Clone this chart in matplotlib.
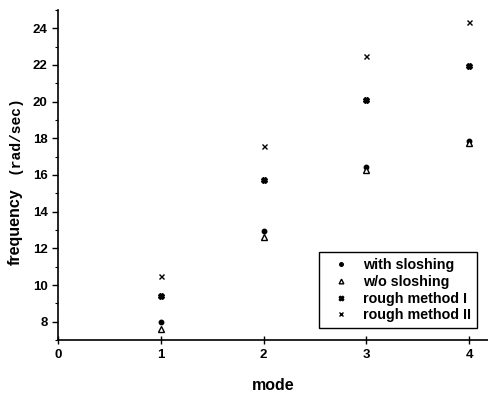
import matplotlib
matplotlib.use("Agg")
import matplotlib.pyplot as plt
from matplotlib.ticker import MultipleLocator

modes = [1, 2, 3, 4]
with_sloshing = [8.0, 12.95, 16.45, 17.85]
wo_sloshing = [7.58, 12.64, 16.27, 17.73]
rough_I = [9.4, 15.73, 20.09, 21.96]
rough_II = [10.49, 17.58, 22.49, 24.35]

plt.rcParams['font.family'] = ['Liberation Sans', 'DejaVu Sans']
plt.rcParams['font.weight'] = 'bold'

fig = plt.figure(figsize=(4.89, 3.95), dpi=100)
ax = fig.add_axes([0.1186, 0.139, 0.879, 0.836])

ax.plot(modes, with_sloshing, linestyle='none', marker='o', ms=3.2, color='black', label='with sloshing')
ax.plot(modes, wo_sloshing, linestyle='none', marker='^', ms=4.2, mfc='white', mec='black', mew=1.0, label='w/o sloshing')
ax.plot(modes, rough_I, linestyle='none', marker='X', ms=4.2, color='black', label='rough method I')
ax.plot(modes, rough_II, linestyle='none', marker='x', ms=3.6, mew=1.0, color='black', label='rough method II')

ax.set_xlim(0, 4.18)
ax.set_ylim(7, 25)
ax.set_xticks([0, 1, 2, 3, 4])
ax.set_yticks([8, 10, 12, 14, 16, 18, 20, 22, 24])
ax.yaxis.set_minor_locator(MultipleLocator(1))
ax.spines['top'].set_visible(False)
ax.spines['right'].set_visible(False)
ax.spines['left'].set_linewidth(1.2)
ax.spines['bottom'].set_linewidth(1.2)
ax.tick_params(axis='y', which='major', direction='out', length=4, width=1, labelsize=9.5)
ax.tick_params(axis='y', which='minor', direction='out', length=2, width=0.8)
ax.tick_params(axis='x', which='major', direction='inout', length=6, width=1, labelsize=9.5)
for lab in ax.get_xticklabels() + ax.get_yticklabels():
    lab.set_fontweight('bold')

ax.set_xlabel('mode', fontsize=11.5, fontweight='bold', labelpad=12)

fig.text(15/489, 1-227/395, 'frequency', rotation=90, ha='center', va='center',
         fontsize=11.5, fontweight='bold')
fig.text(15/489, 1-135/395, '(rad/sec)', rotation=90, ha='center', va='center',
         fontsize=10.5, fontweight='bold', family=['Liberation Mono', 'DejaVu Sans Mono'])

leg = ax.legend(loc='lower right', bbox_to_anchor=(0.975, 0.036), fontsize=10.3,
                frameon=True, fancybox=False, framealpha=1, edgecolor='black',
                borderpad=0.4, labelspacing=0.2, handletextpad=0.4, handlelength=2.3,
                borderaxespad=0, markerscale=0.8)
leg.get_frame().set_linewidth(1.0)

fig.savefig('out.png', dpi=100)
